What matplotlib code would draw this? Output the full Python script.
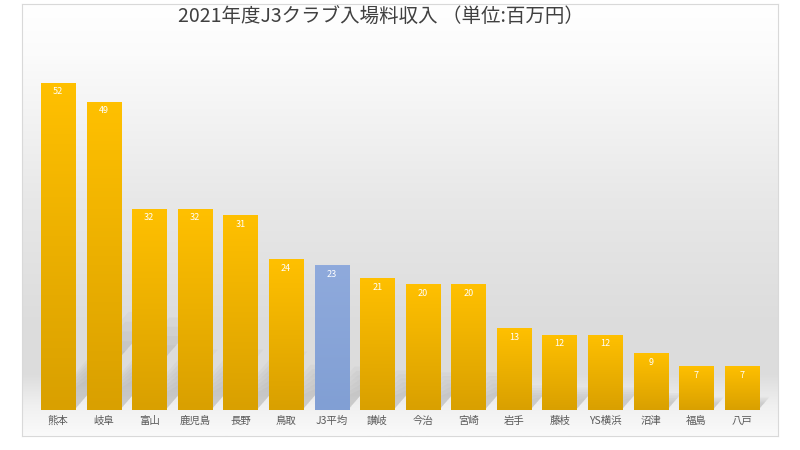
import numpy as np
import matplotlib
matplotlib.use("Agg")
import matplotlib.pyplot as plt
from matplotlib.colors import LinearSegmentedColormap
from matplotlib.patches import Polygon

plt.rcParams["font.family"] = ["Noto Sans CJK JP", "DejaVu Sans"]

# data
clubs = ["熊本", "岐阜", "富山", "鹿児島", "長野", "鳥取", "J3平均", "讃岐", "今治",
         "宮崎", "岩手", "藤枝", "YS横浜", "沼津", "福島", "八戸"]
revenue = [52, 49, 32, 32, 31, 24, 23, 21, 20, 20, 13, 12, 12, 9, 7, 7]
highlight = "J3平均"
title = "2021年度J3クラブ入場料収入 （単位:百万円）"

W, H = 800, 450
fig = plt.figure(figsize=(8, 4.5), dpi=100)
fig.patch.set_facecolor("white")


def px_box(x0, y0, x1, y1):
    # pixel box (top-left origin) -> figure fraction
    return [x0 / W, 1 - y1 / H, (x1 - x0) / W, (y1 - y0) / H]


# background panel with vertical gradient
bg = fig.add_axes(px_box(22, 4, 778, 436))
stops = [(0.0, "#ffffff"), (0.12, "#fbfbfb"), (0.45, "#e8e8e8"),
         (0.75, "#dcdcdc"), (0.86, "#dddddd"), (0.93, "#f0f0f0"), (1.0, "#fafafa")]
bg_cmap = LinearSegmentedColormap.from_list("bg", stops)
grad = np.linspace(0, 1, 256).reshape(-1, 1)
bg.imshow(grad, aspect="auto", cmap=bg_cmap, extent=[0, 1, 0, 1], origin="upper")
bg.set_xticks([])
bg.set_yticks([])
for s in bg.spines.values():
    s.set_color("#d9d9d9")
    s.set_linewidth(0.8)

# main axes
ax = fig.add_axes(px_box(22, 30, 778, 410))
ax.set_facecolor("none")
x = np.arange(len(clubs))
width = 0.75

gold = LinearSegmentedColormap.from_list("gold", ["#d9a000", "#ffc000"])
blue = LinearSegmentedColormap.from_list("blue", ["#819fd4", "#8faadc"])

bars = ax.bar(x, revenue, width=width, color="none", zorder=3)
for xi, v, b, name in zip(x, revenue, bars, clubs):
    # soft shadow on the floor, built from a few faint layers
    hs = v * 0.3
    s = hs * 0.12
    for k in range(6):
        shrink = 0.12 * k
        top = hs * (1 - 0.1 * k)
        shadow = Polygon([(xi - width / 2 + 0.05, 0), (xi + width / 2 - 0.02, 0),
                          (xi + width / 2 - 0.02 + s * (1 - 0.1 * k), top),
                          (xi - width / 2 + 0.05 + s * (1 - 0.1 * k) + shrink, top)],
                         closed=True, facecolor="#808080", edgecolor="none",
                         alpha=0.06, zorder=1)
        ax.add_patch(shadow)
    cmap = blue if name == highlight else gold
    im = ax.imshow(np.linspace(0, 1, 100).reshape(-1, 1), cmap=cmap, aspect="auto",
                   extent=[xi - width / 2, xi + width / 2, 0, v], origin="lower",
                   zorder=3)
    im.set_clip_path(b)
    ax.text(xi, v - 1.45, str(v), ha="center", va="center", color="white",
            fontsize=6.5, zorder=4)

ax.set_xlim(-0.79, len(clubs) - 1 + 0.79)
ax.set_ylim(0, 60.4)
ax.set_xticks(x)
ax.set_xticklabels(clubs, fontsize=7.5, color="#595959")
ax.tick_params(axis="x", length=0, pad=4)
ax.set_yticks([])
for s in ax.spines.values():
    s.set_visible(False)

fig.text(381 / W, 1 - 17 / H, title, ha="center", va="center",
         fontsize=14, color="#404040")

fig.savefig("out.png", dpi=100)
